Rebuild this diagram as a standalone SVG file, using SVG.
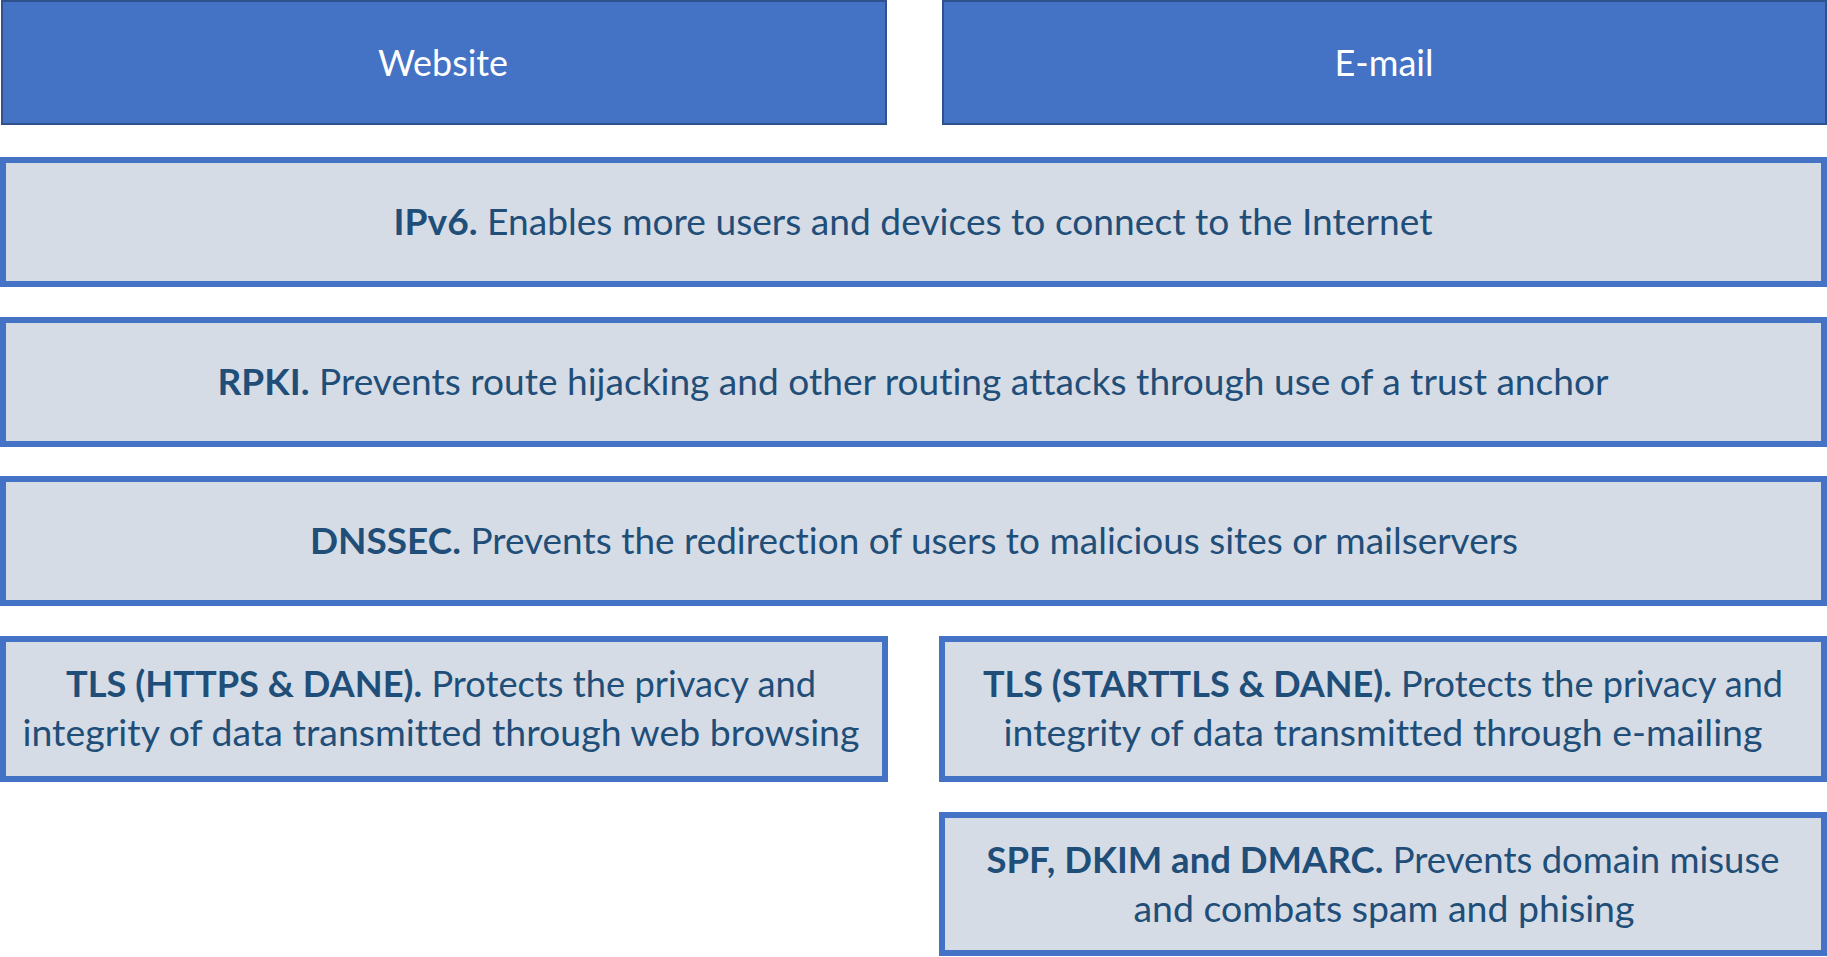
<svg xmlns="http://www.w3.org/2000/svg" width="1827" height="957" viewBox="0 0 1827 957">
<style>
.hdr{fill:#4472C4;stroke:#2F528F;stroke-width:2}
.box{fill:#D6DCE5;stroke:#4472C4;stroke-width:6}
.ht{font-family:Lato,"Open Sans","Liberation Sans",sans-serif;font-size:37px;fill:#FFFFFF;text-anchor:middle;font-variant-ligatures:none}
.bt{font-family:Lato,"Open Sans","Liberation Sans",sans-serif;font-size:37px;fill:#1F4E79;text-anchor:middle;font-variant-ligatures:none}
.b{font-weight:bold}
</style>
<rect width="1827" height="957" fill="#FFFFFF"/>
<g id="website">
<rect class="hdr" x="2" y="1" width="884" height="123"/>
<text class="ht" x="443" y="76" textLength="130" lengthAdjust="spacingAndGlyphs">Website</text>
</g>
<g id="email">
<rect class="hdr" x="943" y="1" width="883" height="123"/>
<text class="ht" x="1384" y="76" textLength="99" lengthAdjust="spacingAndGlyphs">E-mail</text>
</g>
<g id="ipv6">
<rect class="box" x="3" y="160" width="1821" height="124"/>
<text class="bt" x="913" y="235" textLength="1039" lengthAdjust="spacingAndGlyphs"><tspan class="b">IPv6.</tspan> Enables more users and devices to connect to the Internet</text>
</g>
<g id="rpki">
<rect class="box" x="3" y="320" width="1821" height="124"/>
<text class="bt" x="913" y="395" textLength="1391" lengthAdjust="spacingAndGlyphs"><tspan class="b">RPKI.</tspan> Prevents route hijacking and other routing attacks through use of a trust anchor</text>
</g>
<g id="dnssec">
<rect class="box" x="3" y="479" width="1821" height="124"/>
<text class="bt" x="914" y="554" textLength="1208" lengthAdjust="spacingAndGlyphs"><tspan class="b">DNSSEC.</tspan> Prevents the redirection of users to malicious sites or mailservers</text>
</g>
<g id="tls-web">
<rect class="box" x="3" y="639" width="882" height="140"/>
<text class="bt" x="441" y="697" textLength="750" lengthAdjust="spacingAndGlyphs"><tspan class="b">TLS (HTTPS &amp; DANE).</tspan> Protects the privacy and</text>
<text class="bt" x="441" y="746" textLength="837" lengthAdjust="spacingAndGlyphs">integrity of data transmitted through web browsing</text>
</g>
<g id="tls-mail">
<rect class="box" x="942" y="639" width="882" height="140"/>
<text class="bt" x="1383" y="697" textLength="800" lengthAdjust="spacingAndGlyphs"><tspan class="b">TLS (STARTTLS &amp; DANE).</tspan> Protects the privacy and</text>
<text class="bt" x="1383" y="746" textLength="759" lengthAdjust="spacingAndGlyphs">integrity of data transmitted through e-mailing</text>
</g>
<g id="spf">
<rect class="box" x="942" y="815" width="882" height="138"/>
<text class="bt" x="1383" y="873" textLength="793" lengthAdjust="spacingAndGlyphs"><tspan class="b">SPF, DKIM and DMARC.</tspan> Prevents domain misuse</text>
<text class="bt" x="1384" y="922" textLength="501" lengthAdjust="spacingAndGlyphs">and combats spam and phising</text>
</g>
<g id="connectors"></g>
</svg>
